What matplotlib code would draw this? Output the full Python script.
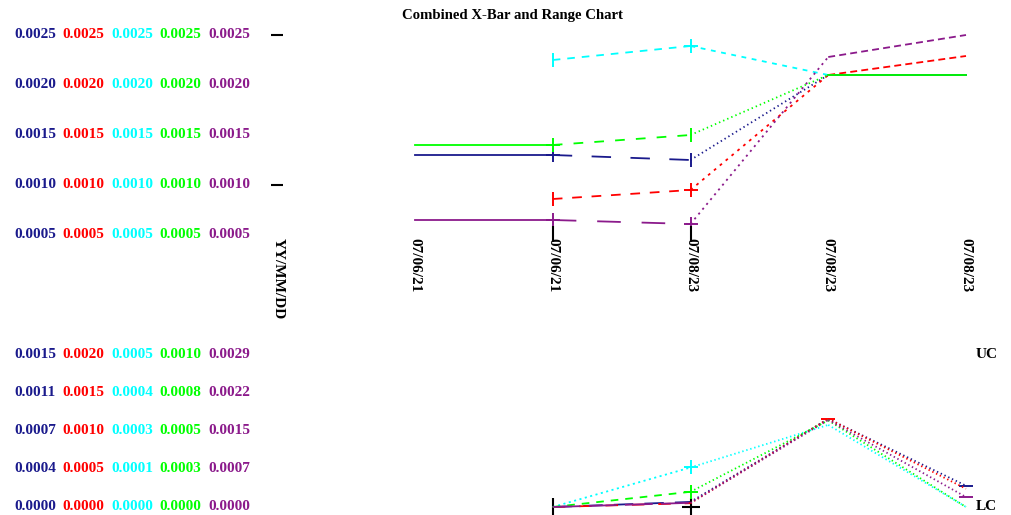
import numpy as np
import matplotlib
matplotlib.use("Agg")
import matplotlib.pyplot as plt
from matplotlib.transforms import blended_transform_factory as blend

plt.rcParams['font.family'] = ['Liberation Serif', 'DejaVu Serif']
plt.rcParams['lines.scale_dashes'] = False

# ---------------- data ----------------
title = "Combined X-Bar and Range Chart"
dates = ["07/06/21", "07/06/21", "07/08/23", "07/08/23", "07/08/23"]
series_names = ["s1", "s2", "s3", "s4", "s5"]
colors = ["#1a1a8c", "#ff0000", "#00ffff", "#00ff00", "#8b1a8b"]

# X-bar values (top chart)
xbar_navy = [0.0013, 0.0013, 0.00125, 0.0021, 0.0021]
xbar_red = [np.nan, 0.00086, 0.00095, 0.0021, 0.00229]
xbar_cyan = [np.nan, 0.00225, 0.00239, 0.0021, np.nan]
xbar_green = [0.0014, 0.0014, 0.0015, 0.0021, 0.0021]
xbar_purple = [0.00065, 0.00065, 0.00061, 0.00228, 0.0025]
xbar_ref = [np.nan, 0.00051, 0.00051, np.nan, np.nan]

xbar_ticks = [0.0005, 0.0010, 0.0015, 0.0020, 0.0025]
xbar_ticklabels = ["0.0005", "0.0010", "0.0015", "0.0020", "0.0025"]
xbar_marks = [0.0010, 0.0025]

# Range values (bottom chart), each series on its own scale
range_navy = [np.nan, 0.0, 0.00005, 0.00087, 0.00021]
range_red = [np.nan, 0.0, 0.00005, 0.00116, 0.00024]
range_cyan = [np.nan, 0.0, 0.00013, 0.00027, 0.0]
range_green = [np.nan, 0.0, 0.0001, 0.00057, 0.0]
range_purple = [np.nan, 0.0, 0.00008, 0.00166, 0.00019]
range_ref = [np.nan, 0.0, 0.0, np.nan, np.nan]

range_max = [0.0015, 0.0020, 0.0005, 0.0010, 0.0029]
range_ticklabels = [
    ["0.0000", "0.0004", "0.0007", "0.0011", "0.0015"],
    ["0.0000", "0.0005", "0.0010", "0.0015", "0.0020"],
    ["0.0000", "0.0001", "0.0003", "0.0004", "0.0005"],
    ["0.0000", "0.0003", "0.0005", "0.0008", "0.0010"],
    ["0.0000", "0.0007", "0.0015", "0.0022", "0.0029"],
]

xbar_all = [xbar_navy, xbar_red, xbar_cyan, xbar_green, xbar_purple]
range_all = [range_navy, range_red, range_cyan, range_green, range_purple]

# ---------------- styles ----------------
top_styles = [
    ['-', (0, (14, 14)), (0, (1, 2.2)), '-'],
    ['-', (0, (7, 7)), (0, (2, 3.5)), (0, (5, 3))],
    ['-', (0, (5.5, 5)), (0, (3.5, 4)), '-'],
    ['-', (0, (7, 8)), (0, (1, 2.2)), '-'],
    ['-', (0, (17, 15)), (0, (1.5, 3)), (0, (5, 3))],
]
top_markers = [
    [None, '+', '|', None, None],
    [None, '|', '+', None, None],
    [None, '|', '+', None, None],
    [None, '+', '|', None, None],
    [None, '+', '+', None, None],
]
bot_styles = [
    ['-', (0, (14, 8)), (0, (1, 2)), (0, (1, 2))],
    ['-', (0, (9, 10)), (0, (1, 2)), (0, (1, 2))],
    ['-', (0, (1.5, 2.5)), (0, (1, 2)), (0, (1, 2))],
    ['-', (0, (5.5, 5)), (0, (1, 2)), (0, (1, 2))],
    ['-', (0, (20, 6)), (0, (1, 2)), (0, (1, 2))],
]
bot_markers = [
    [None, None, None, None, '_'],
    [None, None, None, '_', None],
    [None, None, '+', None, None],
    [None, None, '+', None, None],
    [None, None, None, None, '_'],
]

W, H = 1011, 515
fig = plt.figure(figsize=(W / 100, H / 100), dpi=100)

def rect(x0, x1, y_top, y_bot):
    return [x0 / W, 1 - y_bot / H, (x1 - x0) / W, (y_bot - y_top) / H]

xs = np.arange(len(dates))
LW = 1.3
MS = 10
FS = 11
col_x = [14, 62, 111, 159, 208]

def draw_series(ax, y, color, styles, markers):
    y = np.asarray(y, dtype=float)
    for j in range(len(xs) - 1):
        if np.isfinite(y[j]) and np.isfinite(y[j + 1]):
            ax.plot(xs[j:j + 2], y[j:j + 2], color=color, lw=LW,
                    linestyle=styles[j], clip_on=False)
    for j, m in enumerate(markers):
        if m is not None and np.isfinite(y[j]):
            ax.plot(xs[j], y[j], marker=m, color=color, ms=MS, mew=1.4,
                    linestyle='none', clip_on=False)

# ---------------- top X-bar chart ----------------
ax_top = fig.add_axes(rect(415, 966, 35, 285))
ax_top.set_xlim(0, 4)
ax_top.set_ylim(0, 0.0025)
ax_top.axis('off')

for i in range(5):
    draw_series(ax_top, xbar_all[i], colors[i], top_styles[i], top_markers[i])
ax_top.plot(xs, xbar_ref, marker='|', color='black', ms=11, mew=1.5,
            linestyle='none', clip_on=False)

tr_top = blend(fig.transFigure, ax_top.transData)
for i in range(5):
    for v, lab in zip(xbar_ticks, xbar_ticklabels):
        ax_top.text(col_x[i] / W, v, lab, transform=tr_top, color=colors[i],
                    ha='left', va='center', fontsize=FS, fontweight='bold')
ax_top.plot([277 / W] * len(xbar_marks), xbar_marks, transform=tr_top,
            marker='_', color='black', ms=8, mew=1.5, linestyle='none',
            clip_on=False)

# x labels under top chart
tr_xlab = blend(ax_top.transData, fig.transFigure)
for x, d in zip(xs, dates):
    ax_top.text(x, 1 - 238 / H, d, transform=tr_xlab, rotation=270,
                ha='center', va='top', fontsize=FS, fontweight='bold')
fig.text(278 / W, 1 - 238 / H, "YY/MM/DD", rotation=270, ha='center',
         va='top', fontsize=FS, fontweight='bold')

# ---------------- bottom Range chart ----------------
r = rect(415, 966, 355, 507)
ax_bots = []
for i in range(5):
    ax = fig.add_axes(r, label="range_%d" % i)
    ax.set_xlim(0, 4)
    ax.set_ylim(0, range_max[i])
    ax.axis('off')
    ax.patch.set_alpha(0)
    ax_bots.append(ax)

for i in range(5):
    draw_series(ax_bots[i], range_all[i], colors[i], bot_styles[i], bot_markers[i])
ax_bots[0].plot(xs[1], range_ref[1], marker='|', color='black', ms=13,
                mew=1.5, linestyle='none', clip_on=False)
ax_bots[0].plot(xs[2], range_ref[2], marker='+', color='black', ms=13,
                mew=1.5, linestyle='none', clip_on=False)

for i in range(5):
    tr = blend(fig.transFigure, ax_bots[i].transData)
    ticks = np.linspace(0, range_max[i], 5)
    for v, lab in zip(ticks, range_ticklabels[i]):
        ax_bots[i].text(col_x[i] / W, v, lab, transform=tr, color=colors[i],
                        ha='left', va='center', fontsize=FS, fontweight='bold')

tr_lim = blend(fig.transFigure, ax_bots[0].transAxes)
ax_bots[0].text(976 / W, 1.0, "UC", transform=tr_lim, ha='left', va='center',
                fontsize=FS, fontweight='bold')
ax_bots[0].text(976 / W, 0.0, "LC", transform=tr_lim, ha='left', va='center',
                fontsize=FS, fontweight='bold')

fig.text(512 / W, 1 - 16 / H, title, ha='center', va='center',
         fontsize=10.6, fontweight='bold')

fig.savefig("out.png", dpi=100)
